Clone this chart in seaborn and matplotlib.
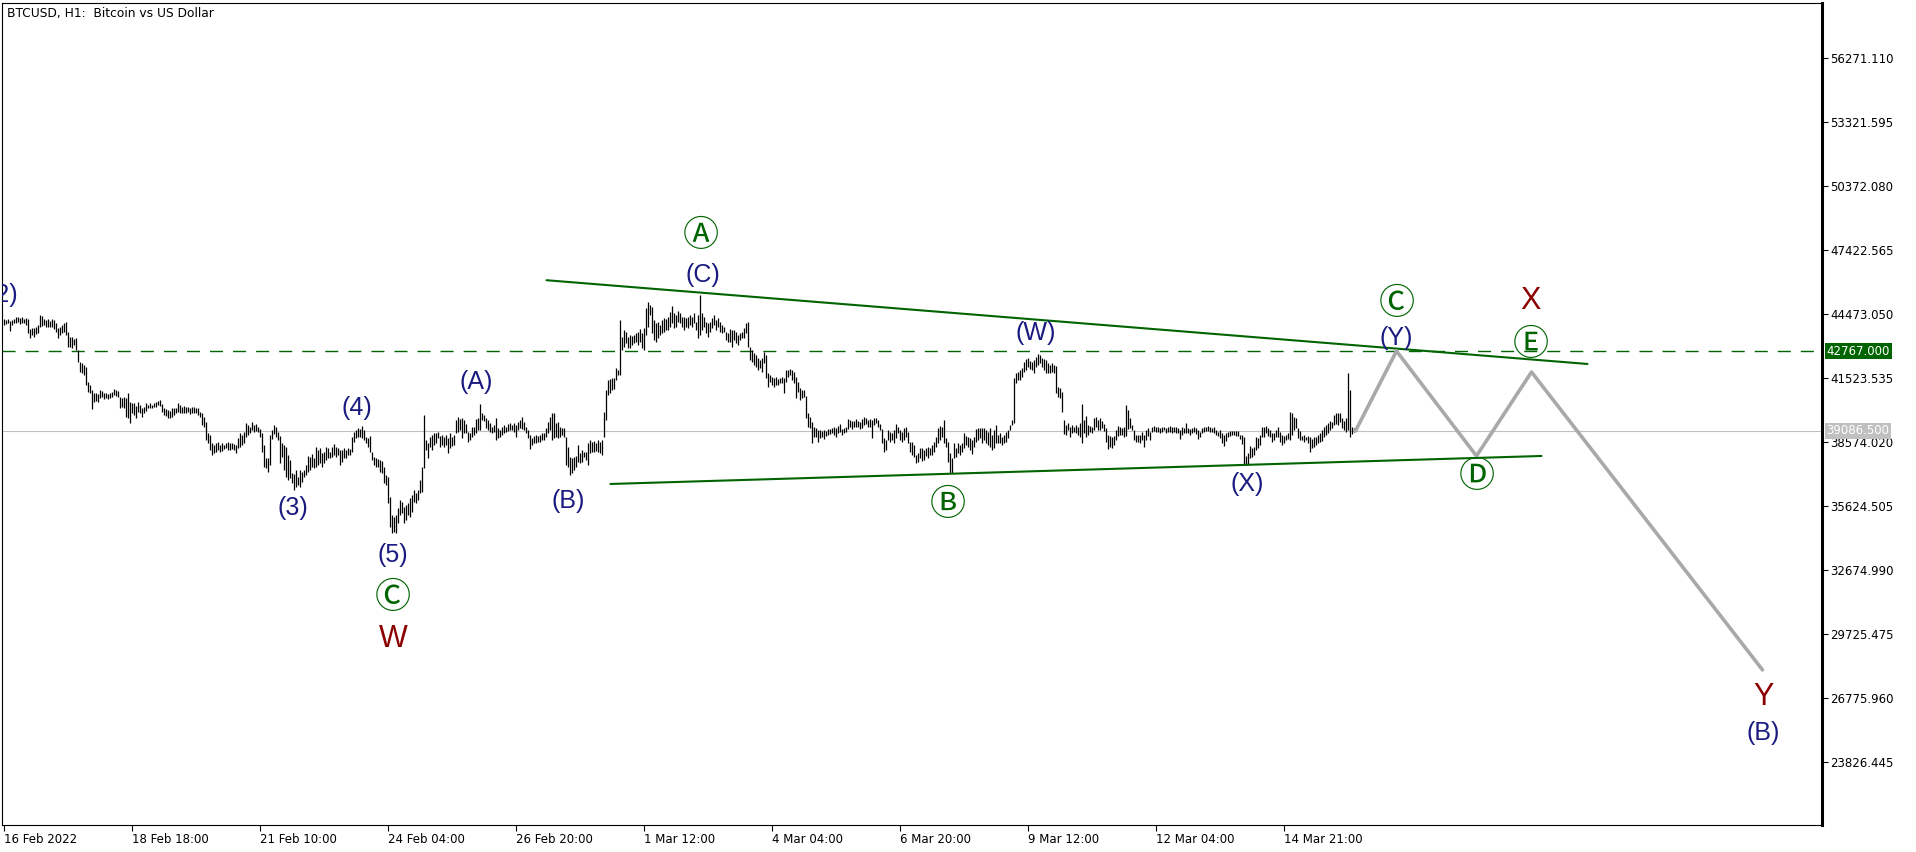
import matplotlib
matplotlib.use("Agg")
import matplotlib.pyplot as plt
import matplotlib.transforms as mtransforms
import numpy as np
import pandas as pd
import seaborn as sns

# hourly BTCUSD bars (high / low), 16 Feb 2022 00:00 onwards
bar_high = [
    # 16 Feb - 18 Feb
    44230, 44200, 44230, 44170, 44200, 44260, 44320, 44350, 44300, 44350,
    44240, 44300, 44230, 43780, 43810, 43810, 43890, 43970, 44430, 44400,
    44230, 44200, 44240, 44170, 44230, 44200, 44070, 43810, 43890, 43970,
    44040, 44100, 43660, 43430, 43430, 43340, 43380, 42810, 42280, 42200,
    42120, 42020, 41360, 41200, 40970, 40850, 40820, 40790, 40970, 40930,
    40820, 40850, 40790, 40820, 40890, 41000, 40970, 40930, 40660, 40590,
    40630, 40590, 40820, 40430, 40390, 40360, 40230, 40400, 40280, 40130,
    40200, 40360, 40300, 40360, 40280, 40360, 40430, 40480, 40510, 40330,
    40130, 40080, 40050, 40020, 40130, 40130, 40160, 40390, 40280, 40200,
    40230, 40200, 40170, 40130, 40200, 40200, 40160, 40130, 39970, 39900,
    39740, 39510, 38970, 38900, 38510, 38440, 38510, 38590, 38440, 38510,
    38440, 38540, 38590, 38510, 38540, 38470, 38440, 38740, 38970, 38900,
    39050, 39440, 39360, 39280, 39510, 39360, 39400, 39280, 39160, 38970,
    38440, 37820, 37820, 38900, 39150,
    # 21 Feb - 26 Feb
    39360, 39280, 39050, 38850, 38510, 38440, 38360, 37980, 37750, 37130,
    37100, 37290, 36980, 37290, 37210, 37290, 37520, 37930, 37900, 38020,
    37820, 38360, 38210, 38280, 38050, 38130, 38360, 38280, 38130, 38360,
    38470, 38360, 38280, 38210, 38210, 38280, 38210, 38280, 38250, 38820,
    39050, 39130, 39210, 39160, 39310, 39130, 38820, 38740, 38850, 38130,
    37900, 37820, 37780, 37750, 37720, 37440, 37050, 36980, 36060, 35210,
    35130, 35210, 35520, 35900, 35830, 35600, 35670, 35750, 35980, 36130,
    36360, 36210, 36360, 36820, 37440, 39820, 38670, 38540, 38820, 38900,
    38970, 39010, 39050, 38850, 38900, 38820, 38900, 38740, 38970, 38820,
    38900, 39590, 39710, 39620, 39670, 39590, 39400, 39050, 39010, 39280,
    39280, 39620, 39670, 40330, 39930, 39820, 39670, 39590, 39440, 39280,
    39360, 39670, 39210, 39130, 39280, 39360, 39280, 39400, 39440, 39360,
    39440, 39360, 39510, 39590, 39740, 39510, 39280, 39130, 38900, 38740,
    38850, 38900, 38850, 38900, 38970, 38970,
    # 26 Feb - 5 Mar
    39210, 39510, 39740, 39930, 39900, 39440, 39510, 39280, 39210, 39210,
    38820, 38360, 37900, 37820, 37900, 37930, 38440, 38050, 38210, 38130,
    38130, 38510, 38670, 38590, 38620, 38540, 38670, 38590, 38670, 39970,
    40970, 41430, 41460, 41510, 41510, 41970, 41890, 44200, 43430, 43740,
    43660, 43430, 43510, 43460, 43510, 43580, 43660, 43770, 43580, 43810,
    44730, 45010, 44890, 44810, 44200, 44040, 44120, 43970, 44200, 44270,
    44230, 44350, 44580, 44840, 44500, 44430, 44610, 44500, 44350, 44350,
    44270, 44350, 44430, 44320, 44500, 44120, 44430, 45350, 44500, 44350,
    44120, 44040, 44120, 44270, 44430, 44200, 44270, 44120, 43970, 43890,
    43660, 43580, 43770, 43740, 43740, 43660, 43510, 43580, 43660, 43810,
    44040, 44120, 42970, 42810, 42660, 42580, 42430, 42350, 42430, 42740,
    42580, 41740, 41660, 41590, 41510, 41590, 41460, 41510, 41560, 41510,
    41890, 41890, 41920, 41890, 41820, 41590, 41360, 41050, 40970, 40970,
    40700, 39900, 39740, 39510, 39280, 39210,
    # 5 Mar - 11 Mar
    39130, 39130, 39100, 39130, 39100, 39160, 39160, 39240, 39280, 39210,
    39310, 39390, 39160, 39210, 39280, 39620, 39590, 39540, 39560, 39620,
    39560, 39510, 39620, 39710, 39670, 39590, 39620, 39590, 39670, 39670,
    39590, 39400, 39160, 38740, 38670, 39130, 39050, 38970, 39130, 39390,
    39250, 39130, 39050, 39210, 39280, 39050, 38590, 38590, 38440, 37980,
    38050, 38280, 38280, 38210, 38280, 38360, 38280, 38440, 38590, 38820,
    39210, 39310, 39250, 39590, 38740, 38590, 38050, 37820, 38510, 38280,
    38510, 38440, 38510, 38970, 38850, 38820, 38740, 38670, 38820, 39160,
    39210, 39240, 39210, 39210, 39130, 39050, 39210, 38900, 39130, 39360,
    38900, 38970, 38820, 38900, 39050, 39130, 39360, 39590, 41510, 41740,
    41820, 41890, 41970, 42280, 42380, 42430, 42320, 42280, 42350, 42510,
    42630, 42580, 42430, 42380, 42350, 42200, 42120, 42200, 42120, 42080,
    41130, 41050, 40890, 39590, 39360, 39440, 39280, 39360, 39280, 39360,
    39280, 39440, 40330, 39590, 39770, 39360,
    # 11 Mar - 15 Mar
    39310, 39280, 39670, 39740, 39590, 39670, 39560, 39400, 39200, 38900,
    38850, 38790, 38850, 39130, 39310, 39250, 39200, 39280, 40280, 40050,
    39670, 39360, 39130, 38900, 38900, 38900, 39050, 38900, 39130, 39200,
    39050, 39280, 39310, 39250, 39280, 39200, 39250, 39280, 39240, 39280,
    39310, 39280, 39250, 39280, 39200, 39130, 39250, 39200, 39470, 39200,
    39160, 39200, 39250, 39200, 39130, 39050, 39200, 39250, 39280, 39310,
    39250, 39200, 39250, 39130, 39050, 39130, 38970, 38900, 39010, 39050,
    39100, 39100, 39100, 39100, 39080, 38900, 38900, 38790, 37930, 38050,
    38390, 38280, 38360, 38790, 38740, 38900, 39250, 39280, 39310, 39200,
    39130, 39010, 38970, 39130, 39250, 39050, 38900, 38850, 38900, 38970,
    39970, 39900, 39740, 39670, 39200, 39100, 38850, 38900, 38790, 38850,
    38790, 38700, 38820, 38820, 38900, 38970, 39130, 39280, 39360, 39440,
    39560, 39510, 39820, 39900, 39900, 39930, 39670, 39560, 39670, 41740,
    40970, 39280, 39200, 39160,
]

bar_low = [
    # 16 Feb - 18 Feb
    43970, 44000, 44040, 43710, 43970, 44040, 44070, 44120, 44010, 44070,
    44040, 43970, 43610, 43350, 43510, 43430, 43550, 43610, 43890, 43920,
    43970, 43860, 43890, 43890, 43890, 43770, 43660, 43350, 43510, 43580,
    43660, 43510, 42970, 42970, 42890, 43050, 42810, 42280, 41820, 41740,
    41660, 41200, 40890, 40820, 40080, 40430, 40480, 40430, 40590, 40630,
    40570, 40590, 40570, 40590, 40660, 40740, 40700, 40630, 40130, 40200,
    40130, 39710, 39670, 39470, 39900, 39820, 39670, 39970, 39900, 39740,
    39900, 40020, 40130, 40130, 40130, 40170, 40200, 40280, 40230, 39970,
    39820, 39770, 39700, 39670, 39740, 39820, 39900, 39970, 39900, 39900,
    39930, 39900, 39970, 39870, 39900, 39930, 39900, 39820, 39740, 39360,
    39280, 38670, 38510, 38210, 37980, 38050, 38130, 38210, 38130, 38180,
    38240, 38280, 38210, 38210, 38240, 38210, 38050, 38280, 38360, 38440,
    38510, 38820, 38900, 38970, 39130, 39050, 39100, 39050, 38820, 38130,
    37440, 37360, 37210, 37520, 38700,
    # 21 Feb - 26 Feb
    38940, 38820, 38670, 37590, 37900, 37290, 36980, 36820, 36900, 36670,
    36360, 36520, 36590, 36520, 36750, 36980, 37050, 37210, 37290, 37410,
    37360, 37440, 37520, 37590, 37440, 37590, 37750, 37820, 37820, 37900,
    37980, 37900, 37980, 37520, 37670, 37820, 37820, 37980, 37980, 38130,
    38590, 38740, 38820, 38790, 38740, 38670, 38510, 38360, 38130, 37750,
    37520, 37440, 37440, 37210, 37130, 36670, 36590, 35750, 34670, 34370,
    34440, 34370, 34830, 35210, 35290, 34830, 34980, 35210, 35130, 35370,
    35830, 35780, 35900, 36210, 36290, 37360, 38210, 37820, 38360, 38210,
    38440, 38510, 38740, 38360, 38440, 38330, 38440, 38050, 38280, 38390,
    38440, 38970, 39050, 39130, 38740, 38970, 38970, 38590, 38670, 38820,
    38900, 38970, 39130, 39130, 39590, 39560, 39210, 39130, 39050, 38970,
    39050, 38670, 38740, 38820, 38900, 38970, 39050, 39100, 39130, 39130,
    39050, 38820, 39130, 39210, 39160, 39130, 38970, 38740, 38240, 38440,
    38510, 38510, 38590, 38590, 38670, 38670,
    # 26 Feb - 5 Mar
    38790, 38970, 39130, 38670, 38740, 38820, 38740, 38820, 38900, 38820,
    37520, 37440, 37050, 37130, 37290, 37440, 37670, 37590, 37670, 37900,
    37750, 37520, 38050, 38130, 38130, 38180, 38130, 38050, 37980, 38820,
    39590, 40740, 40820, 40970, 41000, 41430, 41660, 41660, 42810, 42970,
    43120, 42890, 42890, 43050, 43120, 43200, 43050, 43200, 42890, 42810,
    43510, 43890, 44430, 43580, 43280, 43200, 43350, 43510, 43580, 43660,
    43740, 43740, 43890, 44040, 43810, 43890, 44120, 44040, 43890, 43740,
    43890, 43810, 43970, 43890, 44040, 43740, 43350, 43510, 43740, 43890,
    43580, 43430, 43660, 43810, 43970, 43740, 43890, 43660, 43580, 43660,
    43280, 43200, 43200, 42970, 43280, 43120, 43050, 43280, 43350, 43350,
    43580, 42970, 42350, 42280, 42120, 42050, 41890, 41970, 41820, 42200,
    41510, 41130, 41360, 41200, 41130, 41200, 41200, 41280, 41280, 40850,
    41360, 41590, 41660, 41430, 41280, 40590, 40890, 40510, 40590, 40660,
    39670, 39280, 39210, 38540, 38820, 38820,
    # 5 Mar - 11 Mar
    38590, 38740, 38820, 38700, 38850, 38900, 38940, 38970, 38900, 38820,
    38970, 39050, 38900, 38970, 39050, 39160, 39250, 39160, 39280, 39280,
    39280, 39160, 39210, 39360, 39390, 39280, 39280, 38740, 39360, 39440,
    39280, 39130, 38510, 38130, 38210, 38670, 38590, 38670, 38510, 38740,
    38970, 38670, 38590, 38670, 38820, 38510, 38130, 37980, 37900, 37590,
    37670, 37820, 37720, 37750, 37930, 37820, 37980, 37980, 38130, 38360,
    38510, 38670, 38820, 38540, 38360, 37670, 37130, 37160, 37820, 37900,
    38050, 37980, 38130, 38280, 38440, 38360, 38210, 38020, 38360, 38590,
    38670, 38740, 38540, 38670, 38510, 38440, 38360, 38210, 38280, 38510,
    38510, 38510, 38440, 38510, 38590, 38740, 39130, 39360, 39440, 41280,
    41430, 41430, 41590, 41820, 41890, 42050, 41920, 41890, 41740, 42050,
    42120, 42200, 42050, 41890, 41740, 41740, 41770, 41820, 41740, 40820,
    40660, 40590, 39970, 38940, 38900, 39130, 38820, 38970, 39050, 38970,
    38900, 38820, 38540, 38970, 38820, 38900,
    # 11 Mar - 15 Mar
    39050, 39010, 39130, 39280, 39130, 39130, 39200, 39100, 38590, 38240,
    38360, 38280, 38440, 38670, 38850, 38900, 38900, 38820, 38850, 39160,
    39200, 39130, 38670, 38590, 38590, 38540, 38670, 38330, 38670, 38850,
    38670, 39050, 39100, 39050, 39050, 39010, 39050, 39130, 38970, 39050,
    39050, 39010, 39050, 38970, 39010, 38700, 38900, 38970, 39010, 38970,
    38900, 38970, 39050, 38940, 38700, 38790, 38970, 39050, 39100, 39100,
    39050, 39050, 39010, 38900, 38850, 38740, 38510, 38390, 38640, 38790,
    38850, 38880, 38900, 38850, 38850, 38700, 38480, 37560, 37520, 37520,
    37820, 37900, 37980, 38210, 38280, 38440, 38790, 38820, 38970, 38850,
    38790, 38590, 38670, 38820, 38790, 38590, 38440, 38510, 38670, 38700,
    38670, 38900, 39130, 39200, 38740, 38670, 38670, 38590, 38670, 38510,
    38130, 38280, 38360, 38440, 38510, 38590, 38640, 38790, 38900, 38970,
    39130, 39200, 39360, 39400, 39360, 39510, 39200, 39130, 39050, 39130,
    38820, 38940, 39050, 39100,
]

x_tick_labels = ["16 Feb 2022", "18 Feb 18:00", "21 Feb 10:00", "24 Feb 04:00",
                 "26 Feb 20:00", "1 Mar 12:00", "4 Mar 04:00", "6 Mar 20:00",
                 "9 Mar 12:00", "12 Mar 04:00", "14 Mar 21:00"]
y_tick_values = [23826.445, 26775.960, 29725.475, 32674.990, 35624.505, 38574.020,
                 41523.535, 44473.050, 47422.565, 50372.080, 53321.595, 56271.110]

last_price = 39086.5
level_price = 42767.0

# triangle borders (bar index, price)
upper_x = [271.5, 792]
upper_y = [46030, 42170]
lower_x = [303.5, 769]
lower_y = [36640, 37930]

# forecast path
proj_x = [676, 696.5, 736.5, 764, 879.5]
proj_y = [39086.5, 42767, 37930, 41800, 28070]

# wave marks: text, bar, price, kind
wave_marks = [
    ("(2)", -0.5, 45350, "navy"),
    ("(3)", 144.5, 35510, "navy"),
    ("(4)", 176.5, 40140, "navy"),
    ("(5)", 194.5, 33370, "navy"),
    ("\u24b8", 194.5, 31340, "green"),
    ("W", 195, 29500, "red"),
    ("(A)", 236.5, 41350, "navy"),
    ("(B)", 282.5, 35850, "navy"),
    ("\u24b6", 348.5, 48040, "green"),
    ("(C)", 349.5, 46270, "navy"),
    ("(W)", 516, 43600, "navy"),
    ("\u24b7", 472, 35670, "green"),
    ("(X)", 622, 36640, "navy"),
    ("\u24b8", 696.5, 44890, "green"),
    ("(Y)", 696.5, 43350, "navy"),
    ("X", 763.5, 45090, "red"),
    ("\u24ba", 763.5, 43000, "green"),
    ("\u24b9", 736.5, 36920, "green"),
    ("Y", 880, 26820, "red"),
    ("(B)", 880, 25160, "navy"),
]

mark_style = {
    "navy": dict(color="#1a1a80", fontsize=18),
    "green": dict(color="#006400", fontsize=26),
    "red": dict(color="#8b0000", fontsize=22),
}
mark_fonts = ["Liberation Sans", "Noto Sans CJK JP", "DejaVu Sans"]

bars = pd.DataFrame({"bar": np.arange(len(bar_high)), "high": bar_high, "low": bar_low})

sns.set_theme(style="white")
plt.rcParams["font.family"] = ["DejaVu Sans", "Noto Sans CJK JP"]
plt.rcParams["lines.scale_dashes"] = False

fig = plt.figure(figsize=(19.16, 8.52), dpi=100)
fig.patch.set_facecolor("white")
ax = fig.add_axes([2 / 1916, 27 / 852, 1820 / 1916, 822 / 852])
ax.set_facecolor("white")

ax.axhline(last_price, color="#c0c0c0", lw=0.8, zorder=1)
ax.axhline(level_price, color="#006400", lw=1.0, dashes=(9.4, 7.2), zorder=1)

ax.vlines(bars["bar"], bars["low"], bars["high"], color="black", lw=0.9, zorder=2)

sns.lineplot(x=upper_x, y=upper_y, color="#006400", lw=1.5, ax=ax, zorder=3)
sns.lineplot(x=lower_x, y=lower_y, color="#006400", lw=1.5, ax=ax, zorder=3)
sns.lineplot(x=proj_x, y=proj_y, color="#a9a9a9", lw=2.6, sort=False, ax=ax, zorder=4)

for text, xb, yp, kind in wave_marks:
    ax.text(xb, yp, text, ha="center", va="center", clip_on=True,
            family=mark_fonts, zorder=5, **mark_style[kind])

ax.set_xlim(-0.75, 909.25)
ax.set_ylim(20923, 58806)
ax.set_xlabel("")
ax.set_ylabel("")

ax.set_xticks(range(0, 64 * len(x_tick_labels), 64))
ax.set_xticklabels(x_tick_labels, ha="left", fontsize=8.5)
ax.yaxis.tick_right()
ax.set_yticks(y_tick_values)
ax.set_yticklabels([f"{v:.3f}" for v in y_tick_values], fontsize=8.5)
ax.tick_params(axis="both", direction="out", length=4, width=0.8,
               colors="black", pad=2, bottom=True, right=True, left=False)

for side in ["left", "top", "bottom"]:
    ax.spines[side].set_color("black")
    ax.spines[side].set_linewidth(0.8)
ax.spines["right"].set_color("black")
ax.spines["right"].set_linewidth(2.2)

# price tags on the scale
trans = mtransforms.blended_transform_factory(ax.transAxes, ax.transData)
ax.text(1.0025, level_price, f"{level_price:.3f}", transform=trans, ha="left",
        va="center", color="white", fontsize=8.5, clip_on=False, zorder=6,
        bbox=dict(boxstyle="square,pad=0.15", fc="#006400", ec="none"))
ax.text(1.0025, last_price, f"{last_price:.3f}", transform=trans, ha="left",
        va="center", color="white", fontsize=8.5, clip_on=False, zorder=6,
        bbox=dict(boxstyle="square,pad=0.15", fc="#c0c0c0", ec="none"))

fig.text(7 / 1916, 1 - 13 / 852, "BTCUSD, H1:  Bitcoin vs US Dollar",
         fontsize=8.8, ha="left", va="center", color="black")

fig.savefig("out.png", dpi=100)
